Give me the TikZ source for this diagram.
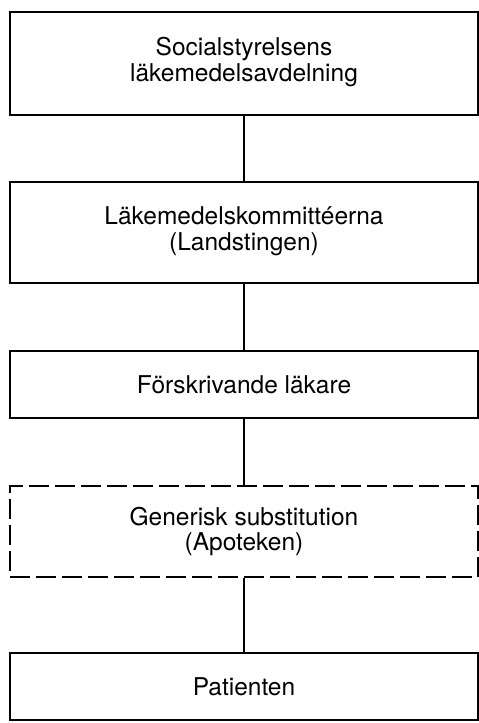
\documentclass[tikz,border=0pt]{standalone}
\usepackage{fontspec}
\setmainfont{TeX Gyre Heros}
\begin{document}
\begin{tikzpicture}[x=1pt,y=-1pt,
  box/.style={draw=black, line width=2pt, rectangle, minimum width=468pt, align=center,
    inner sep=0pt, font=\fontsize{24.5}{25.5}\selectfont},
  dbox/.style={box, dash pattern=on 20pt off 6pt},
  link/.style={draw=black, line width=2pt}]
\useasboundingbox (0,0) rectangle (479,723);
\node[box, minimum height=103pt] (b1) at (244,63.5) {Socialstyrelsens\\läkemedelsavdelning\rule[-8pt]{0pt}{1pt}};
\node[box, minimum height=101pt] (b2) at (244,232.5) {Läkemedelskommittéerna\\(Landstingen)\rule[-8pt]{0pt}{1pt}};
\node[box, minimum height=67pt] (b3) at (244,384.5) {Förskrivande läkare};
\node[dbox, minimum height=91pt] (b4) at (244,531.5) {Generisk substitution\\(Apoteken)};
\node[box, minimum height=67pt] (b5) at (244,686.5) {Patienten};
\draw[link] (b1) -- (b2);
\draw[link] (b2) -- (b3);
\draw[link] (b3) -- (b4);
\draw[link] (b4) -- (b5);
\end{tikzpicture}
\end{document}
